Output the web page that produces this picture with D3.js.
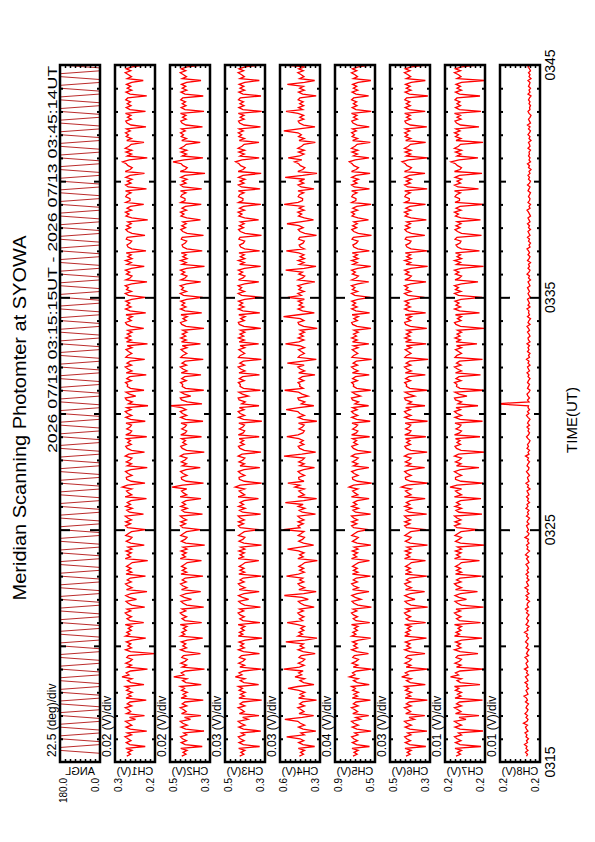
<!DOCTYPE html>
<html><head><meta charset="utf-8">
<script src="https://cdn.jsdelivr.net/npm/d3@7"></script>
<style>html,body{margin:0;padding:0;background:#fff}svg{display:block}text{font-family:"Liberation Sans",Arial,Helvetica,sans-serif;fill:#000}</style>
</head><body><svg id="c" width="595" height="842"></svg>
<script>
const title = "Meridian Scanning Photomter at SYOWA";
const periodText = "2026 07/13 03:15:15UT - 2026 07/13 03:45:14UT";
const axisTitle = "TIME(UT)";
const timeTickLabels = ["0315", "0325", "0335", "0345"];
const panelNames = ["ANGL", "CH1(V)", "CH2(V)", "CH3(V)", "CH4(V)", "CH5(V)", "CH6(V)", "CH7(V)", "CH8(V)"];
const scaleTexts = ["22.5 (deg)/div", "0.02 (V)/div", "0.02 (V)/div", "0.03 (V)/div", "0.03 (V)/div", "0.04 (V)/div", "0.03 (V)/div", "0.01 (V)/div", "0.01 (V)/div"];
const topLabels = ["180.0", "0.3", "0.5", "0.5", "0.6", "0.9", "0.5", "0.2", "0.2"];
const bottomLabels = ["0.0", "0.2", "0.3", "0.3", "0.3", "0.5", "0.3", "0.2", "0.2"];
// axis ranges (ANGL in deg, channels in mV)
const rangeMax = [180, 330, 460, 520, 560, 860, 500, 240, 240];
const rangeMin = [0, 170, 300, 280, 320, 540, 260, 160, 160];

// scan angle (deg), one value every 7.5 s from 03:15:15
const angl = [0,0,180,180,0,0,180,180,0,0,180,180,0,0,180,180,0,0,180,180,
0,0,180,180,0,0,180,180,0,0,180,180,0,0,180,180,0,0,180,180,
0,0,180,180,0,0,180,180,0,0,180,180,0,0,180,180,0,0,180,180,
0,0,180,180,0,0,180,180,0,0,180,180,0,0,180,180,0,0,180,180,
0,0,180,180,0,0,180,180,0,0,180,180,0,0,180,180,0,0,180,180,
0,0,180,180,0,0,180,180,0,0,180,180,0,0,180,180,0,0,180,180,
0,0,180,180,0,0,180,180,0,0,180,180,0,0,180,180,0,0,180,180,
0,0,180,180,0,0,180,180,0,0,180,180,0,0,180,180,0,0,180,180,
0,0,180,180,0,0,180,180,0,0,180,180,0,0,180,180,0,0,180,180,
0,0,180,180,0,0,180,180,0,0,180,180,0,0,180,180,0,0,180,180,
0,0,180,180,0,0,180,180,0,0,180,180,0,0,180,180,0,0,180,180,
0,0,180,180,0,0,180,180,0,0,180,180,0,0,180,180,0,0,180,180];

// channel outputs (mV), one value every 5 s from 03:15:15
const ch1 = [283,268,279,262,287,209,271,285,266,278,290,264,281,203,269,286,263,276,288,248,272,212,284,267,
275,289,263,281,270,205,286,265,279,261,284,272,289,214,266,280,262,302,274,285,268,200,281,264,
287,270,261,283,276,172,268,288,264,279,267,285,261,207,288,271,283,265,277,262,289,215,270,282,
264,280,289,267,282,211,263,277,286,244,273,287,266,202,284,262,279,288,265,281,269,208,286,263,
281,266,284,272,261,199,289,268,281,265,286,262,278,213,267,285,270,262,287,276,264,206,279,288,
268,287,264,279,289,216,272,283,261,287,268,281,266,204,289,263,276,284,263,301,280,210,265,283,
285,262,278,288,266,201,281,264,285,270,262,289,275,212,264,281,287,265,279,268,284,203,287,269,
263,283,270,264,286,209,268,287,263,280,289,266,283,198,276,261,284,289,247,272,286,214,268,281,
279,288,265,283,271,205,285,262,278,289,264,282,269,211,287,279,263,276,286,262,281,200,284,265,
287,267,281,262,279,215,266,283,288,265,278,261,286,207,270,288,266,283,271,287,263,209,276,289,
264,284,276,289,263,202,287,270,262,284,271,288,264,213,282,265,288,262,279,265,285,206,263,278,
282,269,263,285,281,210,262,279,287,268,283,265,279,199,263,286,274,288,264,282,268,215,287,270,
270,287,282,266,288,204,277,288,266,281,262,287,270,212,289,269,261,278,285,300,273,201,281,264,
286,263,289,274,265,214,283,264,285,276,288,269,284,206,266,282,287,265,280,266,288,208,270,285,
266,281,268,287,279,203,270,286,263,281,267,284,263,217,281,264,276,289,267,285,262,211,288,273];
const ch2 = [413,396,408,392,417,331,399,415,394,410,418,393,405,324,397,416,391,409,419,378,402,336,414,395,
405,419,393,411,400,327,416,395,408,391,414,402,419,335,396,410,392,445,404,415,398,322,411,394,
417,400,391,413,406,338,398,418,394,409,397,415,391,329,418,401,413,395,407,392,419,333,400,412,
394,410,419,397,412,325,393,407,416,374,403,417,396,337,414,392,409,418,395,411,399,328,416,393,
411,396,414,402,391,334,419,398,411,395,416,392,408,321,397,415,400,392,417,406,394,339,409,418,
398,417,394,409,419,330,402,413,391,417,398,411,396,336,419,393,406,414,393,452,410,326,395,413,
415,392,408,418,396,339,411,394,415,400,392,419,405,323,394,411,417,395,409,398,414,334,417,399,
393,413,400,394,416,328,398,417,393,410,419,396,413,458,332,391,414,419,377,402,416,325,398,411,
409,418,395,413,401,336,415,392,408,419,394,412,399,327,417,409,393,406,416,392,411,338,414,395,
417,397,411,392,409,324,396,413,418,395,408,391,416,333,400,418,396,413,401,417,393,329,406,419,
394,414,406,419,393,337,417,400,392,414,401,418,394,322,412,395,418,392,409,395,415,331,393,408,
412,399,393,415,411,326,392,409,417,398,413,395,409,338,393,416,404,418,394,412,398,335,417,400,
400,417,412,396,418,333,407,418,396,411,392,417,400,320,419,399,391,408,415,448,403,328,411,394,
416,393,419,404,395,339,413,394,415,406,418,399,414,330,396,412,417,395,410,396,418,324,400,415,
396,411,398,417,409,327,400,416,393,411,397,414,393,336,411,394,406,419,397,415,392,332,418,403];
const ch3 = [432,407,425,401,438,312,410,436,405,428,440,402,422,305,409,437,400,426,441,382,414,316,434,404,
420,441,401,430,412,300,437,404,427,399,435,415,440,318,406,429,400,458,418,436,409,302,431,403,
438,412,399,434,421,313,409,440,404,428,408,436,399,298,440,413,434,405,424,401,441,310,412,431,
404,429,441,408,432,307,402,425,438,378,416,439,406,315,435,400,428,440,405,430,411,303,437,402,
430,406,435,415,399,317,441,409,430,404,437,401,426,301,407,436,413,401,439,421,404,314,428,440,
409,439,404,428,441,306,414,433,399,439,409,430,406,319,441,402,420,435,402,459,429,300,404,434,
436,401,426,440,406,311,430,403,436,413,401,441,418,304,403,430,439,405,428,408,435,315,440,411,
402,434,413,403,437,299,409,439,402,429,441,406,434,316,420,399,435,441,380,415,437,308,409,430,
428,440,405,434,414,313,436,400,426,441,403,431,410,302,439,428,402,420,437,401,430,318,435,404,
439,408,430,401,427,305,406,434,440,404,426,399,437,311,413,440,406,434,414,439,402,299,420,441,
403,435,420,441,402,317,439,412,400,435,414,440,403,306,432,404,440,401,428,404,436,312,402,426,
433,410,402,437,430,301,400,428,439,409,434,405,428,318,402,437,418,441,403,433,409,305,439,413,
412,439,432,406,440,309,421,440,406,430,400,439,412,303,441,411,399,426,436,457,417,315,430,404,
437,402,441,418,405,316,434,403,437,420,440,410,435,307,406,432,439,405,429,406,440,300,412,437,
406,430,409,439,428,304,412,437,402,430,407,435,401,314,430,404,420,441,408,436,400,310,440,417];
const ch4 = [444,419,437,413,450,352,422,448,417,440,520,414,434,345,421,449,412,438,453,531,426,358,446,416,
432,453,413,442,424,341,449,416,439,411,447,512,452,356,418,441,412,470,430,448,421,538,443,415,
450,424,411,446,433,349,421,452,416,440,420,525,411,338,452,425,446,417,436,413,453,517,424,443,
416,441,453,420,444,355,414,437,450,390,428,534,418,343,447,412,440,452,417,442,423,521,449,414,
442,418,447,427,411,336,453,421,442,416,449,515,438,358,419,448,425,413,451,433,416,540,440,452,
421,451,416,440,453,347,426,445,411,451,421,528,418,340,453,414,432,447,414,471,441,513,416,446,
448,413,438,452,418,353,442,415,448,425,413,536,430,346,415,442,451,417,440,420,447,519,452,423,
414,446,425,415,449,339,421,451,414,441,453,523,446,357,432,411,447,453,392,427,449,532,421,442,
440,452,417,446,426,350,448,412,438,453,415,516,422,342,451,440,414,432,449,413,442,527,447,416,
451,420,442,413,439,337,418,446,452,416,438,539,449,354,425,452,418,446,426,451,414,514,432,453,
415,447,432,453,414,351,451,424,412,447,426,526,415,344,444,416,452,413,440,416,448,522,414,438,
445,422,414,449,442,341,412,440,451,421,446,518,440,359,414,449,430,453,415,445,421,535,451,425,
424,451,444,418,452,356,433,452,418,442,412,529,424,338,453,423,411,438,448,473,429,511,442,416,
449,414,453,430,417,348,446,415,449,432,452,537,447,350,418,444,451,417,441,418,452,524,424,449,
418,442,421,451,440,343,424,449,414,442,419,516,413,352,442,416,432,453,420,448,412,530,452,429];
const ch5 = [716,683,708,675,724,584,687,721,680,711,727,676,702,571,685,722,673,709,728,655,694,590,718,679,
701,728,675,713,692,576,722,680,710,673,719,697,727,586,682,712,674,745,700,720,688,568,714,677,
724,692,672,718,705,592,686,727,680,711,684,720,672,574,727,693,718,681,706,676,728,582,692,714,
680,712,728,685,716,569,677,708,724,652,698,726,683,588,720,673,711,727,681,714,690,577,721,676,
713,682,720,697,672,584,728,686,713,680,722,675,707,573,683,721,695,674,726,703,679,591,711,727,
686,726,679,711,728,575,695,717,672,726,686,713,682,587,728,677,701,719,677,748,712,566,680,718,
721,675,707,727,682,589,713,678,721,694,674,728,699,570,679,713,726,681,711,687,720,583,727,690,
677,719,693,679,724,578,686,726,678,712,728,683,719,591,701,672,720,728,656,697,722,574,686,713,
710,727,681,719,696,586,721,675,708,728,680,715,689,567,725,710,678,701,722,675,713,589,720,682,
726,688,712,674,709,572,684,719,727,681,709,673,723,583,693,727,683,720,695,726,676,576,701,728,
679,721,701,728,677,590,726,692,673,721,697,727,678,574,717,682,727,675,711,680,722,585,678,709,
717,689,676,724,713,568,674,710,726,687,719,682,710,592,676,724,703,728,679,718,686,571,726,693,
692,726,716,684,727,584,705,728,684,713,673,726,692,579,728,691,672,709,723,746,698,588,713,680,
724,677,728,700,683,577,719,679,723,704,727,689,720,586,682,716,726,681,712,684,728,570,692,722,
684,713,687,727,711,591,692,723,678,713,686,719,675,573,713,680,700,728,686,721,674,582,727,697];
const ch6 = [404,379,397,373,410,285,382,408,377,400,412,374,394,278,381,409,372,398,413,354,386,291,406,376,
392,413,373,402,384,276,409,376,399,371,407,387,412,288,378,401,372,430,390,408,381,273,403,375,
410,384,371,406,393,290,381,412,376,400,380,408,371,281,412,385,406,377,396,373,413,286,384,403,
376,401,413,380,404,274,374,397,410,350,388,411,378,292,407,372,400,412,377,402,383,279,409,374,
402,378,407,387,371,287,413,381,402,376,409,373,398,275,379,408,385,373,411,393,376,284,400,412,
381,411,376,400,413,280,386,405,371,411,381,402,378,289,413,374,392,407,374,432,401,272,376,406,
408,373,398,412,378,292,402,375,408,385,373,413,390,277,375,402,411,377,400,380,407,285,412,383,
374,406,385,375,409,275,381,411,374,401,413,378,406,290,392,371,407,413,352,387,409,278,381,402,
400,412,377,406,386,288,408,372,398,413,375,403,382,271,411,400,374,392,409,373,402,283,407,376,
411,380,402,373,399,279,378,406,412,376,398,371,409,286,385,412,378,406,386,411,374,293,392,413,
375,407,392,413,374,284,411,384,372,407,386,412,375,274,404,376,412,373,400,376,408,276,374,398,
405,382,374,409,402,291,372,400,411,381,406,377,400,282,374,409,390,413,375,405,381,287,411,385,
384,411,404,378,412,277,393,412,378,402,372,411,384,290,413,383,371,398,408,428,389,274,402,376,
409,374,413,390,377,286,406,375,409,392,412,381,407,279,378,404,411,377,401,378,412,289,384,409,
378,402,381,411,400,273,384,409,374,402,379,407,373,288,402,376,392,413,380,408,372,281,412,389];
const ch7 = [218,209,215,207,220,168,210,219,208,216,221,207,213,164,210,220,207,215,221,198,212,172,219,208,
214,221,207,217,211,165,220,208,215,207,219,212,221,170,209,216,207,229,213,219,210,162,217,208,
220,211,207,218,214,174,210,221,208,216,209,219,207,166,221,211,218,208,214,207,221,169,211,217,
208,216,221,209,218,163,207,215,220,197,212,220,209,175,219,207,216,221,208,217,210,167,219,207,
217,209,219,212,207,171,221,210,217,208,219,207,215,161,209,219,212,207,220,214,208,173,216,221,
210,220,208,216,221,166,212,218,207,220,210,217,209,168,221,207,214,219,207,230,216,164,208,219,
219,207,215,221,209,172,217,208,219,211,207,221,213,160,208,217,220,209,216,210,219,170,221,211,
207,218,211,208,220,165,210,220,207,216,221,209,218,174,214,207,219,221,196,212,220,163,210,217,
216,221,208,218,212,169,219,207,215,221,208,217,211,165,220,216,207,213,219,207,217,176,218,209,
220,210,216,207,215,162,209,218,221,208,215,207,219,171,211,221,209,218,212,220,208,166,213,221,
208,219,213,221,207,174,220,211,207,219,212,221,208,163,217,209,221,207,216,209,219,171,207,215,
218,210,208,220,216,167,207,215,220,210,218,208,216,169,208,219,213,221,208,218,210,162,220,211,
211,220,217,209,221,173,214,221,209,216,207,220,211,166,221,210,207,215,219,228,212,174,216,208,
219,207,221,213,209,164,218,208,219,213,221,210,218,172,209,217,220,208,216,209,221,168,211,219,
209,216,210,220,216,170,211,219,207,216,209,218,207,161,216,208,213,221,209,219,207,175,221,212];
const ch8 = [187,185,189,184,188,186,191,185,187,183,188,186,190,184,187,189,185,193,186,184,188,185,190,186,
184,188,186,183,189,185,187,192,184,186,188,183,187,185,190,184,186,189,183,187,185,191,184,186,
188,184,186,190,183,187,185,182,188,185,184,189,186,183,187,185,191,184,186,182,188,185,183,187,
185,182,187,184,189,183,186,185,181,187,184,188,182,186,184,190,183,185,187,182,186,184,188,183,
186,183,185,188,182,184,187,183,189,185,181,186,184,187,182,185,183,190,184,182,186,183,185,187,
182,186,184,181,187,183,185,182,188,184,186,181,185,183,187,182,184,186,180,185,183,188,182,184,
185,181,184,187,183,182,186,184,181,185,183,189,182,184,181,186,183,185,182,180,184,187,183,181,
184,182,186,181,185,183,180,184,187,182,185,181,184,183,250,182,185,181,184,186,182,180,185,183,
181,185,183,180,184,182,186,181,183,185,180,184,182,187,181,183,180,185,182,184,181,186,180,183,
184,180,182,185,181,183,186,180,184,182,179,185,181,183,182,186,180,184,181,183,185,179,182,184,
181,183,185,180,182,184,179,183,181,186,182,180,184,181,183,179,185,182,180,184,181,183,186,180,
182,179,183,181,185,180,182,184,179,183,181,185,180,182,184,179,181,183,186,180,182,179,184,181,
180,183,181,179,184,182,180,185,181,179,183,181,184,180,182,178,183,181,185,179,182,180,183,181,
182,179,184,180,181,183,178,182,180,184,181,179,183,180,185,179,181,183,180,178,182,184,180,181,
179,182,180,183,181,178,184,180,182,179,183,181,180,184,178,182,180,183,179,181,184,180,182,179];
const series = [angl, ch1, ch2, ch3, ch4, ch5, ch6, ch7, ch8];

const parse = d3.utcParse("%H:%M:%S");
const tStart = parse("03:15:00"), tEnd = parse("03:45:00");
const dataStart = parse("03:15:15");
const stepSec = [7.5, 5, 5, 5, 5, 5, 5, 5, 5];

const svg = d3.select("#c");
const topY = 65, bottomY = 762, pw = 40, pStep = 55, p0 = 60;

const y = d3.scaleUtc().domain([tStart, tEnd]).range([bottomY, topY]);
const minuteTicks = d3.utcMinute.range(tStart, d3.utcMinute.offset(tEnd, 1));
const minor = minuteTicks.filter(d => d.getUTCMinutes() % 5 !== 0);
const majorSet = minuteTicks.filter(d => (d.getUTCMinutes() === 25 || d.getUTCMinutes() === 35));
const midSet = minuteTicks.filter(d => (d.getUTCMinutes() === 20 || d.getUTCMinutes() === 30 || d.getUTCMinutes() === 40));

svg.append("text").attr("transform", `translate(26,418) rotate(-90)`)
  .attr("text-anchor", "middle").attr("font-size", 18)
  .attr("textLength", 365).attr("lengthAdjust", "spacingAndGlyphs").text(title);
svg.append("text").attr("transform", `translate(57,66) rotate(-90)`)
  .attr("text-anchor", "end").attr("font-size", 12)
  .attr("textLength", 387).attr("lengthAdjust", "spacingAndGlyphs").text(periodText);
svg.append("text").attr("transform", `translate(577,420) rotate(-90)`)
  .attr("text-anchor", "middle").attr("font-size", 15).text(axisTitle);

const defs = svg.append("defs");

series.forEach((vals, p) => {
  const L = p0 + p * pStep, R = L + pw;
  const x = d3.scaleLinear().domain([rangeMax[p], rangeMin[p]]).range([L, R]);
  const g = svg.append("g");
  defs.append("clipPath").attr("id", "clip" + p).append("rect")
    .attr("x", L).attr("y", topY).attr("width", pw).attr("height", bottomY - topY);
  const pts = vals.map((v, i) => ({ t: new Date(+dataStart + i * stepSec[p] * 1000), v }));
  const line = d3.line().x(d => x(d.v)).y(d => y(d.t));
  g.append("path").datum(pts).attr("clip-path", `url(#clip${p})`)
    .attr("d", line).attr("fill", "none").attr("stroke-linejoin", "miter")
    .attr("stroke", p === 0 ? "#b31414" : "#ff0000").attr("stroke-width", p === 0 ? 0.9 : 1.3);

  const addTicks = (tv, len) => {
    g.append("g").attr("transform", `translate(${L},0)`)
      .call(d3.axisRight(y).tickValues(tv).tickSize(len).tickFormat(""))
      .call(a => a.select(".domain").remove())
      .selectAll("line").attr("stroke", "#000").attr("stroke-width", 2);
    g.append("g").attr("transform", `translate(${R},0)`)
      .call(d3.axisLeft(y).tickValues(tv).tickSize(len).tickFormat(""))
      .call(a => a.select(".domain").remove())
      .selectAll("line").attr("stroke", "#000").attr("stroke-width", 2);
  };
  addTicks(minor, 3);
  addTicks(midSet, 6);
  addTicks(majorSet, 10);

  const div = (rangeMax[p] - rangeMin[p]) / 8;
  const vt = d3.range(1, 8).map(k => rangeMin[p] + k * div);
  g.append("g").attr("transform", `translate(0,${topY})`)
    .call(d3.axisBottom(x).tickValues(vt).tickSize(3).tickFormat(""))
    .call(a => a.select(".domain").remove())
    .selectAll("line").attr("stroke", "#000").attr("stroke-width", 1.5);
  g.append("g").attr("transform", `translate(0,${bottomY})`)
    .call(d3.axisTop(x).tickValues(vt).tickSize(3).tickFormat(""))
    .call(a => a.select(".domain").remove())
    .selectAll("line").attr("stroke", "#000").attr("stroke-width", 1.5);

  g.append("rect").attr("x", L).attr("y", topY).attr("width", pw).attr("height", bottomY - topY)
    .attr("fill", "none").attr("stroke", "#000").attr("stroke-width", 2.5);

  g.append("text").attr("transform", `translate(${L - 4},757) rotate(-90)`)
    .attr("text-anchor", "start").attr("font-size", 12).text(scaleTexts[p]);
  g.append("text").attr("transform", `translate(${(L + R) / 2},775) scale(-1,1)`)
    .attr("text-anchor", "middle").attr("font-size", 11).text(panelNames[p]);
  g.append("text").attr("transform", `translate(${L + 7},778) rotate(-90)`)
    .attr("text-anchor", "end").attr("font-size", 10).text(topLabels[p]);
  g.append("text").attr("transform", `translate(${R - 1},778) rotate(-90)`)
    .attr("text-anchor", "end").attr("font-size", 10).text(bottomLabels[p]);
});

const labelTimes = timeTickLabels.map(s => d3.utcParse("%H%M")(s));
labelTimes.forEach((t, i) => {
  svg.append("text").attr("transform", `translate(555,${y(t)}) rotate(-90)`)
    .attr("text-anchor", "middle").attr("font-size", 14).text(timeTickLabels[i]);
});
</script></body></html>
